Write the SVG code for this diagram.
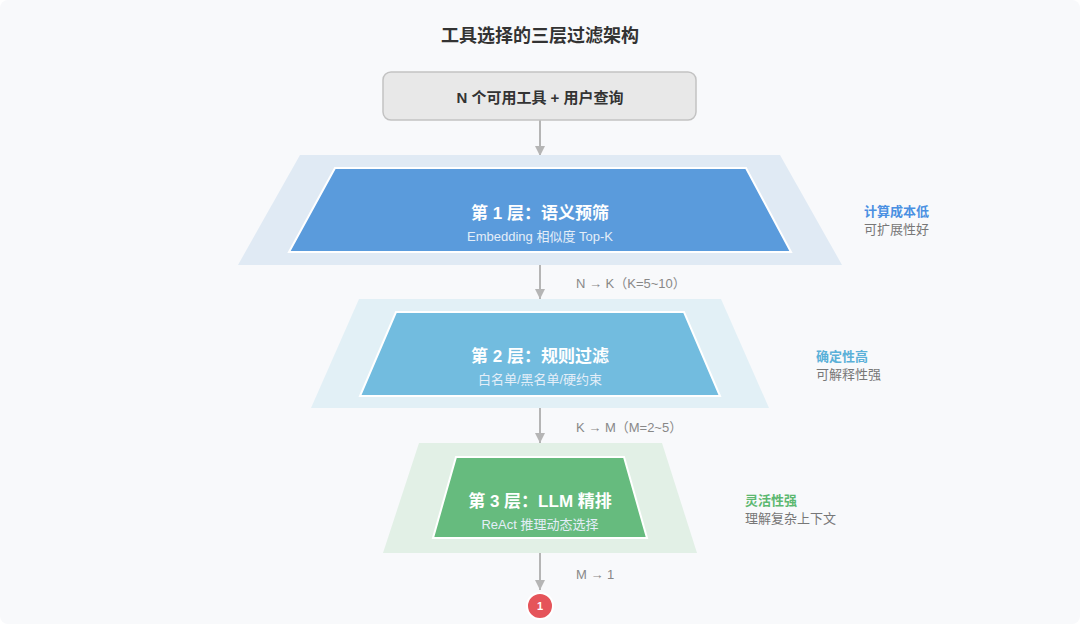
<svg xmlns="http://www.w3.org/2000/svg" width="1080" height="624" viewBox="0 0 1080 624">
<defs>
<marker id="arr" viewBox="0 0 10 10" refX="10" refY="5" markerWidth="10" markerHeight="10" markerUnits="userSpaceOnUse" orient="auto">
<path d="M0,0 L10,5 L0,10 z" fill="#b5b5b5"/>
</marker>
<style>
text{font-family:"Liberation Sans","Noto Sans CJK SC",sans-serif}
.title{font-size:18px;font-weight:bold;fill:#333;text-anchor:middle}
.main{font-size:17px;font-weight:bold;fill:#fff;text-anchor:middle}
.sub{font-size:13px;fill:#e4eef8;text-anchor:middle}
.flow{font-size:13px;fill:#888}
.side{font-size:13px}
.gray{fill:#777}
.edge{stroke:#b5b5b5;stroke-width:2;fill:none;marker-end:url(#arr)}
.inner{stroke:#fff;stroke-width:2}
</style>
</defs>
<rect x="0" y="0" width="1080" height="624" rx="8" fill="#f8f9fb"/>
<text class="title" x="540" y="42">工具选择的三层过滤架构</text>

<g id="connectors">
<line class="edge" x1="540" y1="120" x2="540" y2="156"/>
<line class="edge" x1="540" y1="265" x2="540" y2="299"/>
<line class="edge" x1="540" y1="408" x2="540" y2="443"/>
<line class="edge" x1="540" y1="553" x2="540" y2="590"/>
<text class="flow" x="576" y="288">N → K（K=5~10）</text>
<text class="flow" x="576" y="432">K → M（M=2~5）</text>
<text class="flow" x="576" y="579">M → 1</text>
</g>

<g id="input">
<rect x="383" y="72" width="313" height="48" rx="8" fill="#e8e8e8" stroke="#c2c2c2" stroke-width="1.5"/>
<text x="540" y="103" text-anchor="middle" font-size="15" font-weight="bold" fill="#333">N 个可用工具 + 用户查询</text>
</g>

<g id="layer1">
<polygon points="300,155 780,155 842,265 238,265" fill="#e0eaf4"/>
<polygon class="inner" points="335,168 746,168 791,252 289,252" fill="#5a9bdc"/>
<text class="main" x="540" y="219">第 1 层：语义预筛</text>
<text class="sub" x="540" y="241">Embedding 相似度 Top-K</text>
<text class="side" x="864" y="216" fill="#4a90e2" font-weight="bold">计算成本低</text>
<text class="side gray" x="864" y="234">可扩展性好</text>
</g>

<g id="layer2">
<polygon points="359,299 721,299 769,408 311,408" fill="#e2f0f6"/>
<polygon class="inner" points="396,312 684,312 720,396 360,396" fill="#72bcdf"/>
<text class="main" x="540" y="362">第 2 层：规则过滤</text>
<text class="sub" x="540" y="384">白名单/黑名单/硬约束</text>
<text class="side" x="816" y="361" fill="#5ab0d8" font-weight="bold">确定性高</text>
<text class="side gray" x="816" y="379">可解释性强</text>
</g>

<g id="layer3">
<polygon points="419,443 662,443 697,553 383,553" fill="#e2f0e6"/>
<polygon class="inner" points="456,457 624,457 647,538 433,538" fill="#66bb7e"/>
<text class="main" x="540" y="507">第 3 层：LLM 精排</text>
<text class="sub" x="540" y="529">ReAct 推理动态选择</text>
<text class="side" x="745" y="505" fill="#5cb870" font-weight="bold">灵活性强</text>
<text class="side gray" x="745" y="523">理解复杂上下文</text>
</g>

<g id="result">
<circle cx="540" cy="606" r="13" fill="#e5545a" stroke="#fff" stroke-width="2"/>
<text x="540" y="610" text-anchor="middle" font-size="11" font-weight="bold" fill="#fff">1</text>
</g>
</svg>
